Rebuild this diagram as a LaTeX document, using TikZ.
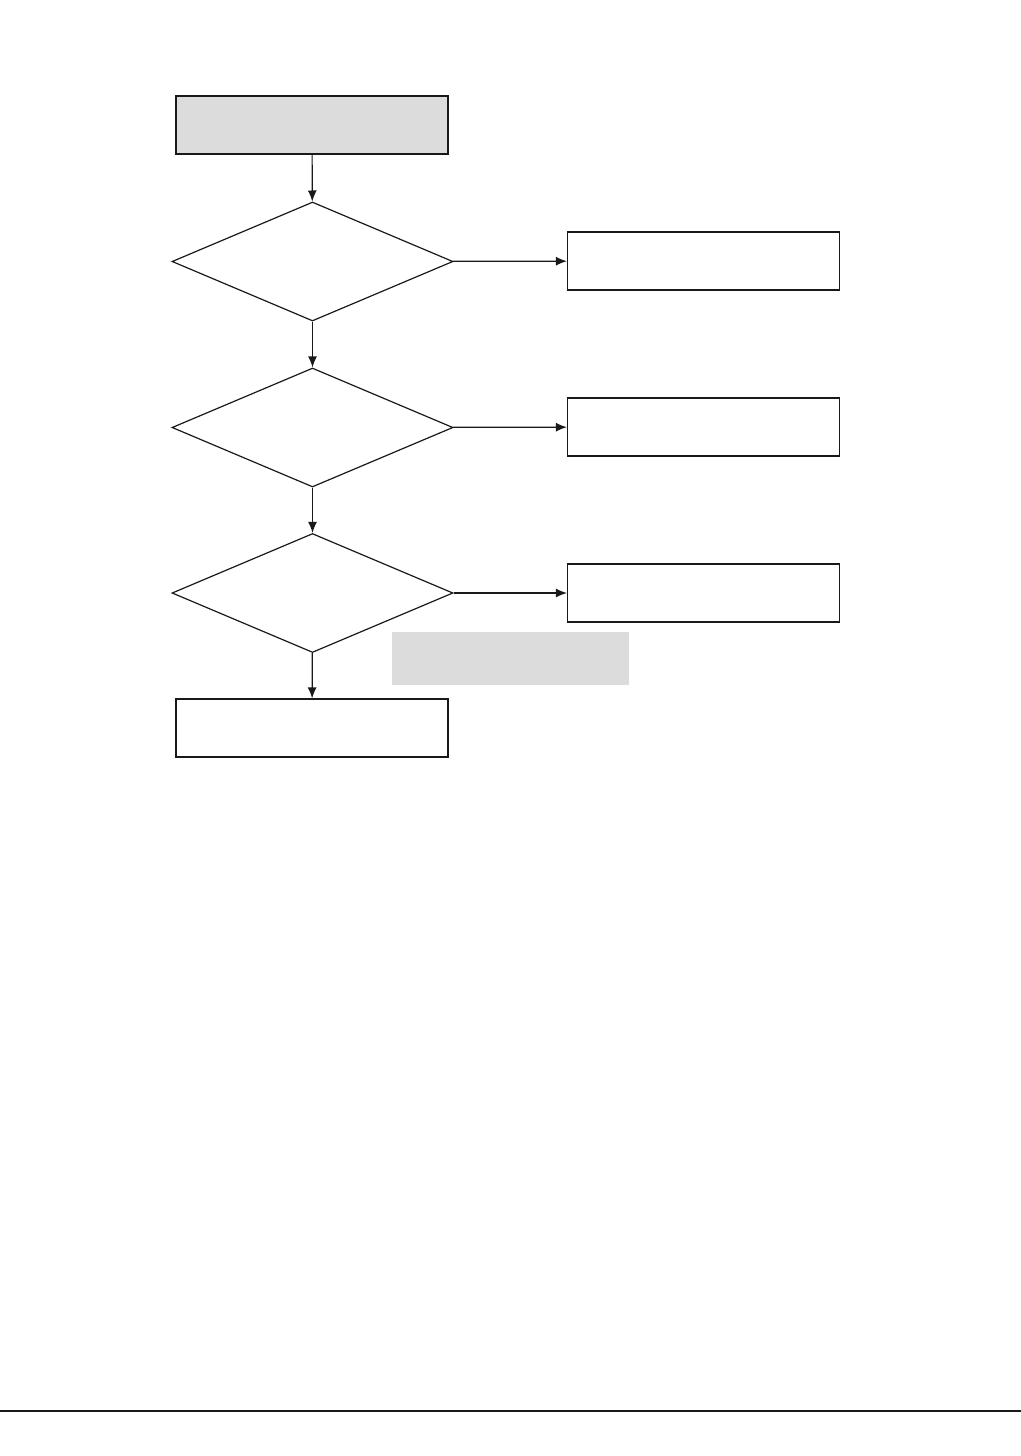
\documentclass[tikz,border=0pt]{standalone}
\usetikzlibrary{shapes.geometric,arrows.meta}
\definecolor{boxgray}{HTML}{DCDCDC}
\begin{document}
\begin{tikzpicture}[x=0.5pt,y=-0.5pt,
  box/.style={draw=black!90,line width=0.6pt,rectangle,minimum width=136pt,minimum height=29pt,inner sep=0pt},
  graybox/.style={box,fill=boxgray},
  dec/.style={draw=black!90,line width=0.6pt,diamond,aspect=2.36,minimum width=140.5pt,minimum height=59.5pt,inner sep=0pt},
  arr/.style={draw=black!90,line width=0.6pt,-{Latex[length=5.5pt,width=4.5pt]}}
]
\useasboundingbox (0,0) rectangle (1021,1456);
\node[graybox] (start) at (312,125) {};
\node[dec] (d1) at (312.5,261.5) {};
\node[dec] (d2) at (312.5,427.5) {};
\node[dec] (d3) at (312.5,593) {};
\node[box] (r1) at (703.5,261) {};
\node[box] (r2) at (703.5,427) {};
\node[box] (r3) at (703.5,593) {};
\node[box] (end) at (312,728) {};
\node[fill=boxgray,minimum width=118.5pt,minimum height=26.5pt,inner sep=0pt] (note) at (510.5,658.5) {};
\draw[arr] (start) -- (d1);
\draw[arr] (d1) -- (d2);
\draw[arr] (d2) -- (d3);
\draw[arr] (d3) -- (end);
\draw[arr] (d1) -- (r1);
\draw[arr] (d2) -- (r2);
\draw[arr] (d3) -- (r3);
\coordinate (ruleL) at (0,1411);
\coordinate (ruleR) at (1021,1411);
\draw[line width=1.1pt,black!90] (ruleL) -- (ruleR);
\end{tikzpicture}
\end{document}
